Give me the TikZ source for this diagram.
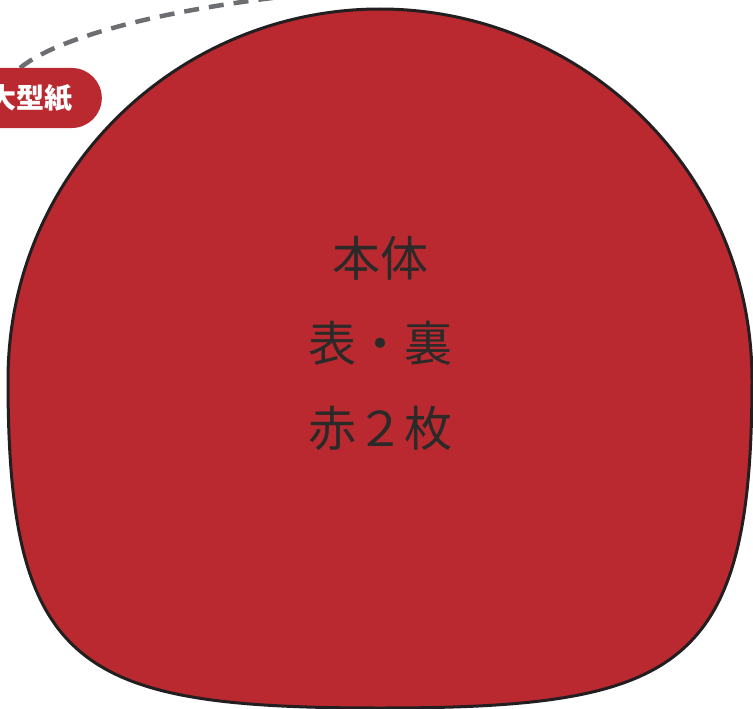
\documentclass[tikz,border=0pt]{standalone}
\usepackage{fontspec}
\usepackage{tikz}
\usetikzlibrary{positioning}
\newfontfamily\cjk{Noto Sans CJK JP}
\definecolor{partred}{HTML}{B9292F}
\definecolor{edgeblack}{HTML}{231F20}
\definecolor{textdark}{HTML}{2B2A29}
\definecolor{dashgray}{HTML}{6D6E71}

\begin{document}
\begin{tikzpicture}[
    x = 1pt,
    y = -1pt,
    piece/.style={fill=partred, draw=edgeblack, line width=3pt},
    label/.style={text=textdark, font=\cjk\fontsize{48}{85}\selectfont, align=center},
    tag/.style={fill=partred, text=white, font=\cjk\bfseries\fontsize{28}{30}\selectfont,
        rounded corners=30pt, minimum height=60pt, inner xsep=29pt, inner ysep=0pt},
    guide/.style={draw=dashgray, line width=4.5pt, dash pattern=on 15pt off 10pt}
]
    \useasboundingbox (0,0) rectangle (753,709);

    % pattern piece
    \path[piece] (380,9) .. controls (180,9) and (8,170) .. (8,380)
        .. controls (8,670) and (80,708) .. (380,708)
        .. controls (680,708) and (752,670) .. (752,380)
        .. controls (752,170) and (580,9) .. cycle;

    \node[label] (body) at (380,343) {本体\\表・裏\\赤２枚};

    % pattern tag and its guide
    \coordinate (guidestart) at (20,68);
    \coordinate (guideend) at (330,-8);
    \draw[guide] (guidestart) .. controls (60,35) and (180,5) .. (guideend);
    \node[tag, anchor=east] (pattern) at (102,98) {実物大型紙};
\end{tikzpicture}
\end{document}
